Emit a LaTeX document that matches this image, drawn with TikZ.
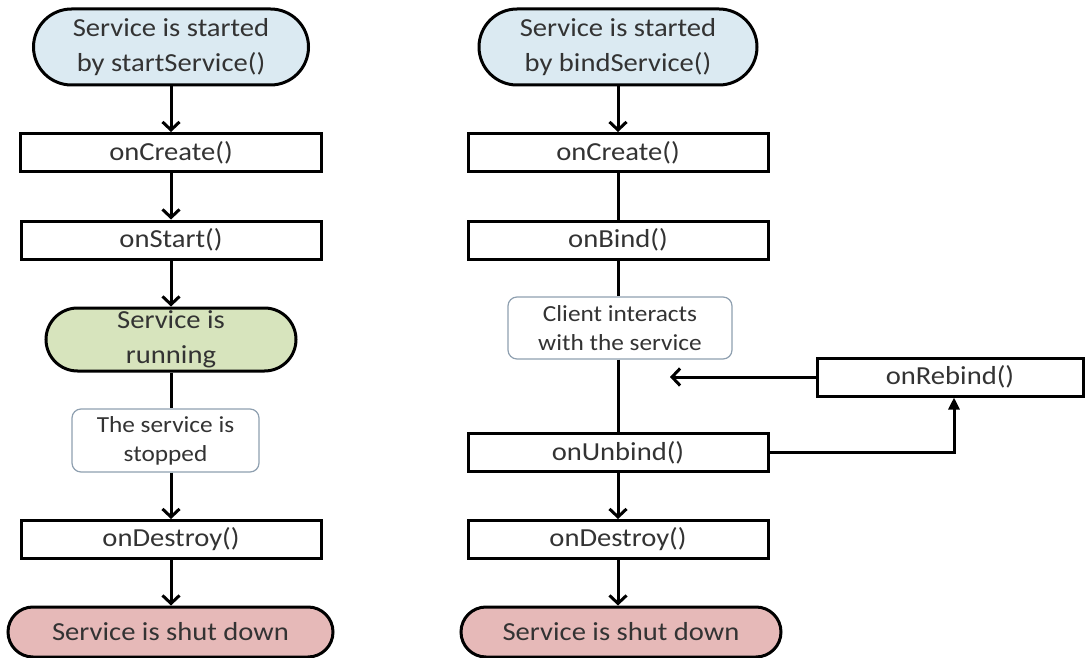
\documentclass[tikz,border=0pt]{standalone}
\usepackage{fontspec}
\setmainfont{Carlito}[FakeStretch=1.1]
\usetikzlibrary{shapes.misc,arrows.meta}
\definecolor{txt}{HTML}{333333}
\definecolor{startblue}{HTML}{DBEAF2}
\definecolor{rungreen}{HTML}{D7E4BD}
\definecolor{endpink}{HTML}{E6B9B8}
\definecolor{noteborder}{HTML}{8FA0B0}
\tikzset{
  base/.style={draw=black, line width=3pt, inner sep=0pt, text=txt, align=center,
    font=\fontsize{26}{35}\selectfont},
  stadium/.style={base, rounded rectangle},
  method/.style={base, rectangle, minimum height=38pt},
  note/.style={draw=noteborder, line width=1.2pt, rounded corners=9pt, fill=white,
    inner sep=0pt, text=txt, align=center, font=\fontsize{23}{29}\selectfont},
  flow/.style={line width=3pt, draw=black},
  vtip/.style={flow, -{Straight Barb[length=8pt,width=17pt]}},
  ttip/.style={flow, -{Triangle[length=12pt,width=11pt]}}
}
\begin{document}
\begin{tikzpicture}[x=1pt,y=-1pt]
\useasboundingbox (0,0) rectangle (1085,658);
% left column
\node[stadium, fill=startblue, minimum width=275pt, minimum height=76pt] (ls) at (171,47) {Service is started\\by startService()};
\node[method, minimum width=301pt] (lc) at (171,152.5) {onCreate()};
\node[method, minimum width=300pt] (lst) at (171,240) {onStart()};
\node[stadium, fill=rungreen, minimum width=250pt, minimum height=63pt] (lr) at (171,339.5) {Service is\\running};
\node[note, minimum width=187pt, minimum height=63pt] (lsp) at (165.5,440.5) {The service is\\stopped};
\node[method, minimum width=300pt] (ld) at (171,539.5) {onDestroy()};
\node[stadium, fill=endpink, minimum width=325pt, minimum height=50pt] (le) at (170.5,632) {Service is shut down};
% right column
\node[stadium, fill=startblue, minimum width=278pt, minimum height=76pt] (rs) at (618,47) {Service is started\\by bindService()};
\node[method, minimum width=300pt] (rc) at (618,152.5) {onCreate()};
\node[method, minimum width=300pt] (rb) at (618,240) {onBind()};
\node[note, minimum width=224pt, minimum height=62pt] (rci) at (620,328) {Client interacts\\with the service};
\node[method, minimum width=300pt] (ru) at (618,452.5) {onUnbind()};
\node[method, minimum width=300pt] (rd) at (618,539.5) {onDestroy()};
\node[stadium, fill=endpink, minimum width=320pt, minimum height=50pt] (re) at (621,632) {Service is shut down};
\node[method, minimum width=266pt] (rr) at (950,377) {onRebind()};
\coordinate (rrend) at (670,377);
% left connectors
\draw[vtip] (ls.south) -- (lc.north);
\draw[vtip] (lc.south) -- (lst.north);
\draw[vtip] (lst.south) -- (lr.north);
\draw[flow] (lr.south) -- (lr.south |- lsp.north);
\draw[vtip] (lr.south |- lsp.south) -- (ld.north);
\draw[vtip] (ld.south) -- (ld.south |- le.north);
% right connectors
\draw[vtip] (rs.south) -- (rc.north);
\draw[flow] (rc.south) -- (rb.north);
\draw[flow] (rb.south) -- (rb.south |- rci.north);
\draw[flow] (rb.south |- rci.south) -- (ru.north);
\draw[vtip] (ru.south) -- (rd.north);
\draw[vtip] (rd.south) -- (rd.south |- re.north);
\draw[vtip] (rr.west) -- (rrend);
\draw[ttip] (ru.east) -| ([xshift=4pt]rr.south);
\end{tikzpicture}
\end{document}
